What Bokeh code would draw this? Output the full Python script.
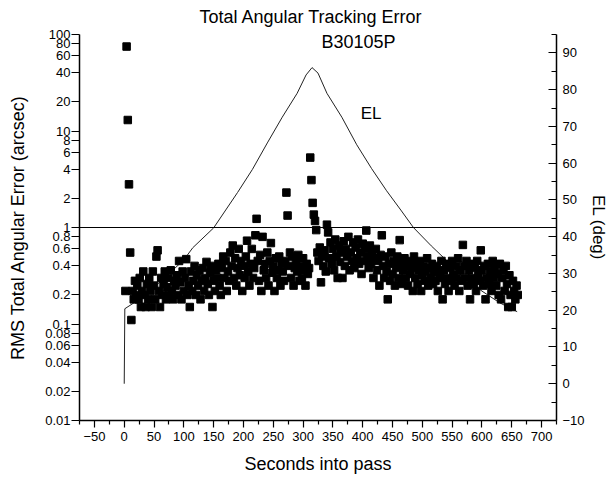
from bokeh.plotting import figure
from bokeh.models import (Range1d, LinearAxis, LinearScale, FixedTicker, CustomJSTickFormatter,
                          Span, ColumnDataSource)
from bokeh.core.properties import value
from bokeh.embed import file_html
from bokeh.resources import INLINE

# ---------------- data ----------------
# RMS total angular error (arcsec), one sample every 2 s from t=2 to t=660
secs = list(range(2, 661, 2))
rms_err = [
    0.22,
    75, 13, 2.8, 0.55,
    # t 12-100
    0.11, 0.22, 0.18, 0.28, 0.2, 0.25, 0.18, 0.3, 0.15, 0.22,
    0.35, 0.2, 0.15, 0.26, 0.18, 0.3, 0.22, 0.15, 0.35, 0.25,
    0.18, 0.5, 0.58, 0.22, 0.15, 0.3, 0.2, 0.26, 0.35, 0.18,
    0.24, 0.3, 0.2, 0.36, 0.22, 0.18, 0.28, 0.25, 0.32, 0.2,
    0.45, 0.27, 0.18, 0.35, 0.22,
    # t 102-200
    0.3, 0.47, 0.2, 0.25, 0.15, 0.35, 0.22, 0.28, 0.4, 0.2,
    0.32, 0.25, 0.36, 0.18, 0.28, 0.38, 0.22, 0.3, 0.44, 0.26,
    0.2, 0.34, 0.4, 0.15, 0.28, 0.22, 0.36, 0.3, 0.42, 0.25,
    0.2, 0.38, 0.5, 0.3, 0.45, 0.22, 0.35, 0.28, 0.55, 0.4,
    0.65, 0.3, 0.48, 0.25, 0.38, 0.6, 0.32, 0.45, 0.22, 0.4,
    # t 202-310
    0.3, 0.5, 0.73, 0.35, 0.25, 0.42, 0.6, 0.3, 0.38, 0.83,
    1.23, 0.45, 0.28, 0.52, 0.22, 0.8, 0.36, 0.42, 0.3, 0.55,
    0.25, 0.45, 0.69, 0.34, 0.4, 0.22, 0.48, 0.3, 0.36, 0.5,
    0.25, 0.42, 0.35, 0.28, 0.45, 2.3, 1.33, 0.4, 0.55, 0.3,
    0.5, 0.25, 0.38, 0.45, 0.35, 0.52, 0.28, 0.4, 0.3, 0.48,
    0.36, 0.25, 0.42, 0.33, 0.38,
    # t 312-420
    5.3, 3.1, 1.8, 1.36, 1.17, 0.94, 0.55, 0.45, 0.62, 0.27,
    0.5, 0.4, 0.58, 0.35, 1.07, 0.89, 0.48, 0.7, 0.42, 0.6,
    0.36, 0.75, 0.5, 0.3, 0.65, 0.44, 0.55, 0.3, 0.72, 0.4,
    0.6, 0.5, 0.8, 0.36, 0.55, 0.45, 0.7, 0.38, 0.62, 0.48,
    0.75, 0.42, 0.55, 0.33, 0.68, 0.45, 0.6, 0.93, 0.5, 0.38,
    0.65, 0.42, 0.55, 0.3, 0.48,
    # t 422-520
    0.6, 0.36, 0.45, 0.25, 0.52, 0.83, 0.4, 0.3, 0.5, 0.35,
    0.18, 0.42, 0.28, 0.55, 0.33, 0.45, 0.25, 0.38, 0.5, 0.3,
    0.74, 0.42, 0.26, 0.36, 0.48, 0.3, 0.4, 0.25, 0.45, 0.33,
    0.38, 0.22, 0.5, 0.3, 0.42, 0.26, 0.36, 0.45, 0.22, 0.32,
    0.4, 0.28, 0.35, 0.48, 0.25, 0.38, 0.3, 0.42, 0.26, 0.35,
    # t 522-660
    0.28, 0.4, 0.22, 0.34, 0.3, 0.45, 0.18, 0.36, 0.26, 0.42,
    0.3, 0.22, 0.38, 0.28, 0.45, 0.33, 0.25, 0.4, 0.3, 0.48,
    0.22, 0.36, 0.28, 0.66, 0.4, 0.3, 0.45, 0.25, 0.36, 0.18,
    0.42, 0.3, 0.26, 0.38, 0.22, 0.45, 0.32, 0.28, 0.58, 0.36,
    0.25, 0.4, 0.18, 0.3, 0.42, 0.26, 0.35, 0.22, 0.45, 0.3,
    0.38, 0.25, 0.33, 0.2, 0.42, 0.18, 0.3, 0.36, 0.22, 0.4,
    0.26, 0.15, 0.32, 0.2, 0.15, 0.28, 0.22, 0.18, 0.25, 0.2,
]

# Elevation (deg) vs time
el_secs = [0, 1, 20, 40, 65, 100, 115, 150, 190, 215, 240, 265, 290, 305, 315,
           325, 340, 365, 390, 415, 440, 465, 485, 515, 535, 565, 600, 630, 659]
el_deg = [0, 20.4, 22.4, 24.8, 28.4, 33.7, 37, 42.4, 52, 58.3, 65.5, 72.5, 79, 84, 86,
          84.5, 79, 72.5, 65, 58.5, 52.5, 47, 42.5, 37.5, 34.4, 29.5, 25.2, 22, 19.6]

threshold = 1.0

x_ticks = [-50, 0, 50, 100, 150, 200, 250, 300, 350, 400, 450, 500, 550, 600, 650, 700]
x_minor = [-75, -25, 25, 75, 125, 175, 225, 275, 325, 375, 425, 475, 525, 575, 625, 675, 725]
y_ticks = [0.01, 0.02, 0.04, 0.06, 0.08, 0.1, 0.2, 0.4, 0.6, 0.8, 1, 2, 4, 6, 8, 10,
           20, 40, 60, 80, 100]
el_ticks = [-10, 0, 10, 20, 30, 40, 50, 60, 70, 80, 90]
el_minor = [-5, 5, 15, 25, 35, 45, 55, 65, 75, 85, 95]

FONT = "Liberation Sans"

# ---------------- figure ----------------
p = figure(frame_width=477, frame_height=386, x_range=Range1d(-75, 725),
           y_range=Range1d(0.01, 100),
           y_axis_type="log", output_backend="svg", toolbar_location=None,
           min_border_left=79, min_border_right=50, min_border_top=34, min_border_bottom=59,
           title="Total Angular Tracking Error")
p.extra_y_ranges = {"el": Range1d(-10, 95)}
p.extra_y_scales = {"el": LinearScale()}
p.outline_line_color = None
p.grid.visible = False
p.background_fill_color = "white"
p.border_fill_color = "white"

p.title.text_font = FONT
p.title.text_font_size = "18px"
p.title.text_font_style = "normal"
p.title.align = "left"
p.title.vertical_align = "top"
p.title.offset = 120
p.title.standoff = 12
p.title.text_color = "black"

xa = p.xaxis[0]
xa.ticker = FixedTicker(ticks=x_ticks, minor_ticks=x_minor)
xa.axis_label = "Seconds into pass"
ya = p.yaxis[0]
ya.ticker = FixedTicker(ticks=y_ticks, minor_ticks=[])
ya.formatter = CustomJSTickFormatter(code="return String(Number(tick.toPrecision(3)));")
ya.axis_label = "RMS Total Angular Error (arcsec)"

ra = LinearAxis(y_range_name="el", axis_label="EL (deg)",
                ticker=FixedTicker(ticks=el_ticks, minor_ticks=el_minor))
p.add_layout(ra, "right")

for ax in (xa, ya, ra):
    ax.axis_line_color = "black"
    ax.axis_line_width = 1.5
    ax.major_tick_line_color = "black"
    ax.minor_tick_line_color = "black"
    ax.major_tick_line_width = 1.2
    ax.minor_tick_line_width = 1.2
    ax.major_label_text_font = FONT
    ax.major_label_text_font_size = "13px"
    ax.major_label_text_color = "black"
    ax.axis_label_text_font = FONT
    ax.axis_label_text_font_size = "18px"
    ax.axis_label_text_font_style = "normal"
    ax.axis_label_text_color = "black"

xa.major_tick_in = 0
xa.major_tick_out = 7
xa.minor_tick_in = 0
xa.minor_tick_out = 4
xa.major_label_standoff = 4
xa.axis_label_standoff = 10

ya.major_tick_in = 0
ya.major_tick_out = 8
ya.minor_tick_in = 0
ya.minor_tick_out = 0
ya.major_label_standoff = 1
ya.axis_label_standoff = 14

ra.major_tick_in = 8
ra.major_tick_out = 0
ra.minor_tick_in = 5
ra.minor_tick_out = 0
ra.major_label_standoff = 6
ra.axis_label_standoff = 1
ra.axis_label_text_font_size = "17px"

# threshold line at 1 arcsec
p.add_layout(Span(location=threshold, dimension="width", line_color="black", line_width=1.2))

# elevation curve
p.line(el_secs, el_deg, y_range_name="el", line_color="#222222", line_width=1)

# RMS error points
src = ColumnDataSource(dict(t=secs, e=rms_err))
p.scatter("t", "e", source=src, marker="square", size=7.5, color="black")

# annotations
p.text(x=[393], y=[84], text=["B30105P"], text_align="center", text_baseline="middle",
       text_font=value(FONT), text_font_size="18px", text_color="black")
p.text(x=[414], y=[73.5], text=["EL"], y_range_name="el", text_align="center",
       text_baseline="middle", text_font=value(FONT), text_font_size="17px", text_color="black")

open("out.html", "w").write(file_html(p, INLINE))
